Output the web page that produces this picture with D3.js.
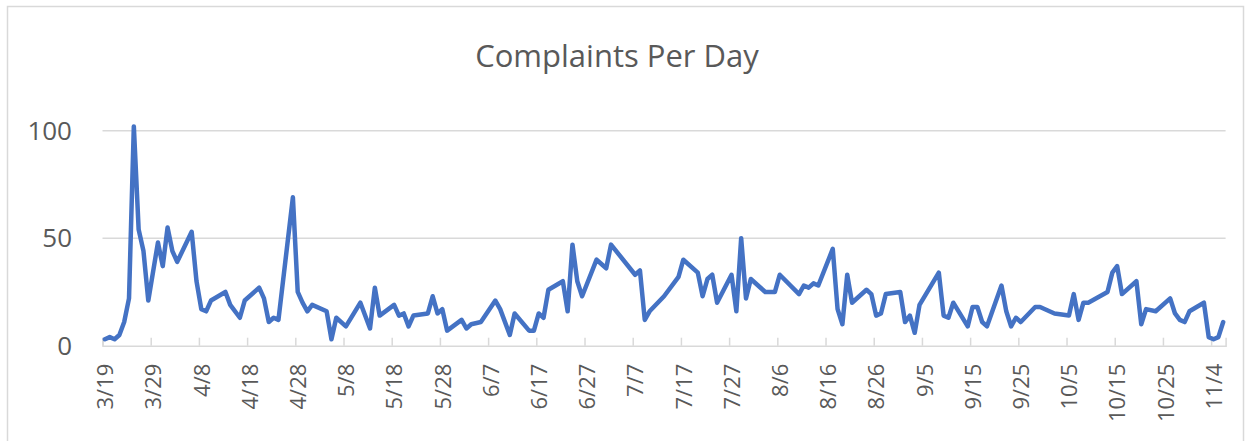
<!DOCTYPE html>
<html>
<head>
<meta charset="utf-8">
<script src="https://cdn.jsdelivr.net/npm/d3@7"></script>
<style>
  html, body { margin: 0; padding: 0; background: #fff; }
  svg { display: block; font-family: "Open Sans", sans-serif; }
</style>
</head>
<body>
<svg id="vis" width="1250" height="441"></svg>
<script>
const width = 1250;
const height = 441;

// data (weekdays mostly, 2020)
const dates = [
  '3/19','3/20','3/21','3/22','3/23','3/24','3/25','3/26','3/27','3/28','3/30','3/31',
  '4/1','4/2','4/3','4/6','4/7','4/8','4/9','4/10','4/13','4/14','4/16','4/17',
  '4/20','4/21','4/22','4/23','4/24','4/27','4/28','4/29','4/30',
  '5/1','5/4','5/5','5/6','5/8','5/11','5/13','5/14','5/15','5/18','5/19','5/20','5/21','5/22',
  '5/25','5/26','5/27','5/28','5/29',
  '6/1','6/2','6/3','6/5','6/8','6/9','6/11','6/12','6/15','6/16','6/17','6/18','6/19',
  '6/22','6/23','6/24','6/25','6/26','6/29',
  '7/1','7/2','7/7','7/8','7/9','7/10','7/13','7/16','7/17','7/20','7/21','7/22','7/23','7/24',
  '7/27','7/28','7/29','7/30','7/31',
  '8/3','8/5','8/6','8/10','8/11','8/12','8/13','8/14','8/17','8/18','8/19','8/20','8/21',
  '8/24','8/25','8/26','8/27','8/28','8/31',
  '9/1','9/2','9/3','9/4','9/8','9/9','9/10','9/11','9/14','9/15','9/16','9/17','9/18',
  '9/21','9/22','9/23','9/24','9/25','9/28','9/29',
  '10/2','10/5','10/6','10/7','10/8','10/9','10/13','10/14','10/15','10/16',
  '10/19','10/20','10/21','10/23','10/26','10/27','10/28','10/29','10/30',
  '11/2','11/3','11/4','11/5','11/6'
];
const complaints = [
  3,4,3,5,11,22,102,54,44,21,48,37,
  55,44,39,53,30,17,16,21,25,19,13,21,
  27,22,11,13,12,69,25,20,16,
  19,16,3,13,9,20,8,27,14,19,14,15,9,14,
  15,23,15,17,7,
  12,8,10,11,21,17,5,15,7,7,15,13,26,
  30,16,47,30,23,40,
  36,47,33,35,12,16,23,32,40,34,23,31,33,20,
  33,16,50,22,31,
  25,25,33,24,28,27,29,28,45,17,10,33,20,
  26,24,14,15,24,25,
  11,14,6,19,34,14,13,20,9,18,18,11,9,
  28,16,9,13,11,18,18,
  15,14,24,12,20,20,25,34,37,24,
  30,10,17,16,22,15,12,11,16,
  20,4,3,4,11
];
const tickLabels = ['3/19','3/29','4/8','4/18','4/28','5/8','5/18','5/28','6/7','6/17','6/27','7/7',
  '7/17','7/27','8/6','8/16','8/26','9/5','9/15','9/25','10/5','10/15','10/25','11/4'];
const yTicks = [0, 50, 100];
const title = 'Complaints Per Day';
const year = 2020;

const parse = d3.timeParse('%m/%d/%Y');
const toDate = s => parse(s + '/' + year);
const data = dates.map((d, i) => ({date: toDate(d), value: complaints[i]}));

const plot = {left: 102.5, right: 1225.6, top: 130.7, bottom: 345.7};
const half = 12 * 3600 * 1000;

const svg = d3.select('#vis');

// chart area border
svg.append('rect')
  .attr('x', 7.5).attr('y', 6.5)
  .attr('width', 1236).attr('height', 460)
  .attr('fill', '#fff')
  .attr('stroke', '#d9d9d9')
  .attr('stroke-width', 1.5);

const xScale = d3.scaleTime()
  .domain([new Date(toDate('3/19') - half), new Date(+toDate('11/6') + half)])
  .range([plot.left, plot.right]);
const yScale = d3.scaleLinear().domain([0, 100]).range([plot.bottom, plot.top]);

// gridlines
svg.append('g').attr('class', 'grid')
  .selectAll('line')
  .data(yTicks.filter(v => v > 0))
  .join('line')
  .attr('x1', plot.left).attr('x2', plot.right)
  .attr('y1', d => yScale(d)).attr('y2', d => yScale(d))
  .attr('stroke', '#d9d9d9')
  .attr('stroke-width', 1.5);

// y axis labels only
const yAxis = d3.axisLeft(yScale).tickValues(yTicks).tickSize(0).tickPadding(0);
const yg = svg.append('g').attr('transform', 'translate(72,0)').call(yAxis);
yg.select('.domain').remove();
yg.selectAll('text')
  .attr('fill', '#595959')
  .style('font-size', '26px')
  .style('font-family', '"Open Sans", sans-serif');

// x axis: tick marks on day boundaries, pointing up
const boundaries = tickLabels.map(s => new Date(toDate(s) - half));
const xTickAxis = d3.axisBottom(xScale).tickValues(boundaries).tickSize(-8).tickFormat('');
const xtg = svg.append('g').attr('transform', `translate(0,${plot.bottom})`).call(xTickAxis);
xtg.select('.domain').attr('stroke', '#d9d9d9').attr('stroke-width', 1.5);
xtg.selectAll('.tick line').attr('stroke', '#d9d9d9').attr('stroke-width', 1.5);

// x labels at day centres, rotated
const xLabelAxis = d3.axisBottom(xScale).tickValues(tickLabels.map(toDate)).tickSize(0)
  .tickFormat(d3.timeFormat('%-m/%-d'));
const xlg = svg.append('g').attr('transform', `translate(0,${plot.bottom})`).call(xLabelAxis);
xlg.select('.domain').remove();
xlg.selectAll('text')
  .attr('fill', '#595959')
  .style('font-size', '22px')
  .style('font-family', '"Open Sans", sans-serif')
  .attr('text-anchor', 'end')
  .attr('transform', 'rotate(-90)')
  .attr('x', -18)
  .attr('y', 0)
  .attr('dy', '0.35em');

// the line
const line = d3.line().x(d => xScale(d.date)).y(d => yScale(d.value));
svg.append('path')
  .datum(data)
  .attr('d', line)
  .attr('fill', 'none')
  .attr('stroke', '#4472c4')
  .attr('stroke-width', 4.5)
  .attr('stroke-linejoin', 'round')
  .attr('stroke-linecap', 'round');

// title
svg.append('text')
  .attr('x', 617)
  .attr('y', 67)
  .attr('text-anchor', 'middle')
  .attr('fill', '#595959')
  .style('font-size', '31px')
  .text(title);
</script>
</body>
</html>
